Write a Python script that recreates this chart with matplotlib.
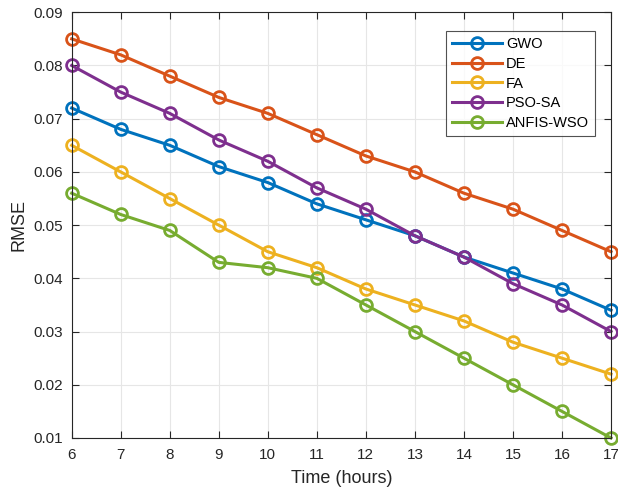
import matplotlib
matplotlib.use("Agg")
import matplotlib.pyplot as plt

plt.rcParams['font.family'] = ['Liberation Sans', 'DejaVu Sans']

hours = [6, 7, 8, 9, 10, 11, 12, 13, 14, 15, 16, 17]
gwo = [0.072, 0.068, 0.065, 0.061, 0.058, 0.054, 0.051, 0.048, 0.044, 0.041, 0.038, 0.034]
de = [0.085, 0.082, 0.078, 0.074, 0.071, 0.067, 0.063, 0.060, 0.056, 0.053, 0.049, 0.045]
fa = [0.065, 0.060, 0.055, 0.050, 0.045, 0.042, 0.038, 0.035, 0.032, 0.028, 0.025, 0.022]
pso_sa = [0.080, 0.075, 0.071, 0.066, 0.062, 0.057, 0.053, 0.048, 0.044, 0.039, 0.035, 0.030]
anfis_wso = [0.056, 0.052, 0.049, 0.043, 0.042, 0.040, 0.035, 0.030, 0.025, 0.020, 0.015, 0.010]

series = [("GWO", gwo, "#0072BD"), ("DE", de, "#D95319"), ("FA", fa, "#EDB120"),
          ("PSO-SA", pso_sa, "#7E2F8E"), ("ANFIS-WSO", anfis_wso, "#77AC30")]

fig = plt.figure(figsize=(6.18, 4.93), dpi=100)
ax = fig.add_axes([0.116, 0.1116, 0.8727, 0.8635])
for name, vals, col in series:
    ax.plot(hours, vals, '-o', color=col, lw=2.2, ms=8.5, mfc='none', mew=2, label=name,
            clip_on=False)

ax.set_xlim(6, 17)
ax.set_ylim(0.01, 0.09)
ax.set_xticks(hours)
ax.set_yticks([0.01, 0.02, 0.03, 0.04, 0.05, 0.06, 0.07, 0.08, 0.09])
ax.set_yticklabels(['0.01', '0.02', '0.03', '0.04', '0.05', '0.06', '0.07', '0.08', '0.09'])
ax.grid(True, color='#e6e6e6', lw=0.8)
ax.set_axisbelow(True)
for s in ax.spines.values():
    s.set_color('#262626')
    s.set_linewidth(0.8)
ax.tick_params(direction='in', length=5, labelsize=11, colors='#262626', top=True, right=True)
ax.tick_params(axis='y', pad=6.5)
ax.tick_params(axis='x', pad=7)
ax.set_xlabel('Time (hours)', fontsize=13, color='#262626', labelpad=6)
ax.set_ylabel('RMSE', fontsize=13, color='#262626', labelpad=4)
leg = ax.legend(loc='upper right', bbox_to_anchor=(0.970, 0.956), borderaxespad=0,
                fontsize=10.5, frameon=True, fancybox=False, edgecolor='#262626',
                handlelength=3.4, handletextpad=0.3, borderpad=0.4, labelspacing=0.4)
leg.get_frame().set_linewidth(0.8)
fig.savefig('out.png', dpi=100)
